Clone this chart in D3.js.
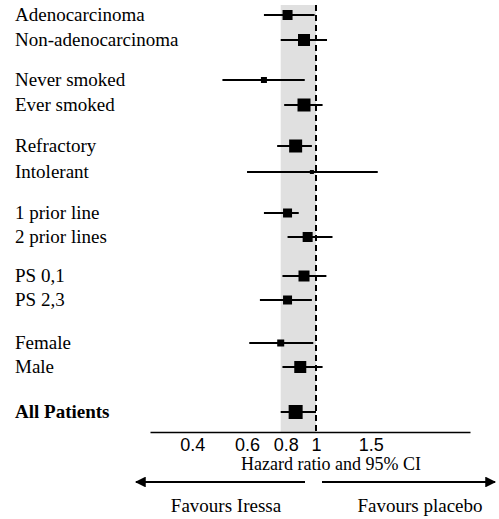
<!DOCTYPE html><html><head><meta charset="utf-8"><script src="https://cdn.jsdelivr.net/npm/d3@7"></script>
<style>body{margin:0;background:#fff}text{font-family:"Liberation Serif","Times New Roman",serif;fill:#000}</style></head><body><svg id="c" width="499" height="519"></svg><script>
const labels=["Adenocarcinoma","Non-adenocarcinoma","Never smoked","Ever smoked","Refractory","Intolerant","1 prior line","2 prior lines","PS 0,1","PS 2,3","Female","Male","All Patients"];
const rowY=[15,40,80,105,146,172,213,237,276,300,343,367,412];
const hr=[0.81,0.915,0.68,0.915,0.86,0.97,0.81,0.94,0.915,0.81,0.77,0.89,0.86];
const lo=[0.68,0.77,0.50,0.79,0.75,0.60,0.68,0.81,0.78,0.66,0.61,0.78,0.77];
const hi=[0.99,1.085,0.92,1.05,0.97,1.58,0.88,1.13,1.08,0.97,0.98,1.05,1.0];
const boxSize=[10,12,6,13,13,4,9,10,11,9,7,12,14];
const ticks=[0.4,0.6,0.8,1,1.5];
const svg=d3.select("#c");
const x=d3.scaleLog().domain([Math.exp(-166/135),Math.exp(154/135)]).range([150,470]);
const axisY=432;
svg.append("rect").attr("x",x(0.77)).attr("y",5).attr("width",x(1)-x(0.77)).attr("height",axisY-5).attr("fill","#e0e0e0");
svg.append("line").attr("x1",x(1)).attr("x2",x(1)).attr("y1",5).attr("y2",axisY).attr("stroke","#000").attr("stroke-width",2).attr("stroke-dasharray","6,4");
const g=svg.append("g").attr("transform",`translate(0,${axisY})`).call(d3.axisBottom(x).tickValues(ticks).tickFormat(d=>String(d)).tickSize(0).tickPadding(6));
g.select(".domain").attr("stroke","#000").attr("stroke-width",1.5);
g.selectAll("text").style("font-family","Liberation Sans, Arial, sans-serif").style("font-size","18px").attr("fill","#000");
labels.forEach((l,i)=>{
 svg.append("text").attr("x",15).attr("y",rowY[i]+6).attr("font-size",19).attr("font-weight",i==12?"bold":"normal").text(l);
 svg.append("line").attr("x1",x(lo[i])).attr("x2",x(hi[i])).attr("y1",rowY[i]).attr("y2",rowY[i]).attr("stroke","#000").attr("stroke-width",1.8);
 svg.append("rect").attr("x",x(hr[i])-boxSize[i]/2).attr("y",rowY[i]-boxSize[i]/2).attr("width",boxSize[i]).attr("height",boxSize[i]).attr("fill","#000");
});
svg.append("text").attr("x",331).attr("y",470).attr("text-anchor","middle").attr("font-size",18).text("Hazard ratio and 95% CI");
const defs=svg.append("defs");
defs.append("marker").attr("id","ah").attr("viewBox","0 0 10 10").attr("refX",9).attr("refY",5).attr("markerWidth",8).attr("markerHeight",6).attr("orient","auto-start-reverse").append("path").attr("d","M0,0L10,5L0,10z").attr("fill","#000");
svg.append("line").attr("x1",305).attr("x2",136).attr("y1",482).attr("y2",482).attr("stroke","#000").attr("stroke-width",1.8).attr("marker-end","url(#ah)");
svg.append("line").attr("x1",322).attr("x2",495).attr("y1",482).attr("y2",482).attr("stroke","#000").attr("stroke-width",1.8).attr("marker-end","url(#ah)");
svg.append("text").attr("x",226).attr("y",512).attr("text-anchor","middle").attr("font-size",19).text("Favours Iressa");
svg.append("text").attr("x",420).attr("y",512).attr("text-anchor","middle").attr("font-size",19).text("Favours placebo");
</script></body></html>
